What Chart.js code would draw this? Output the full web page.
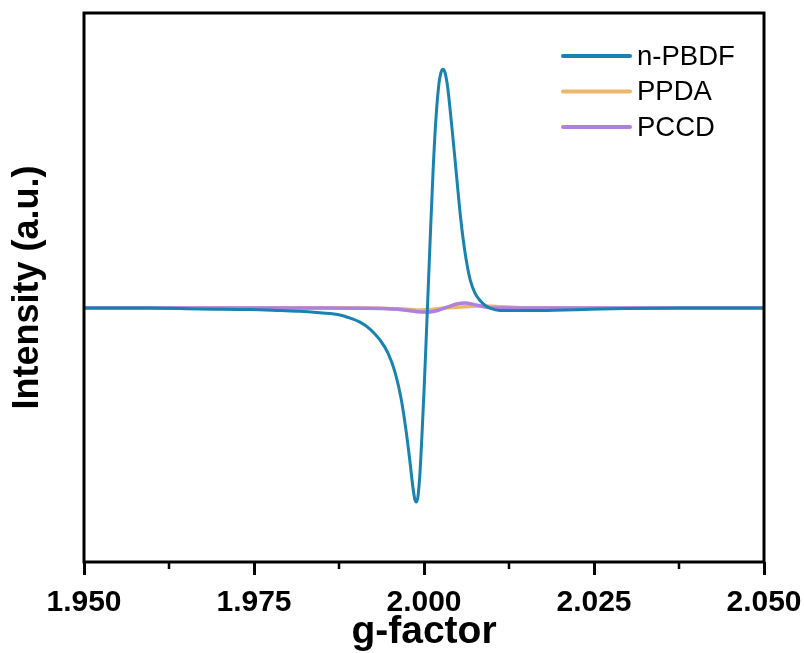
<!DOCTYPE html>
<html>
<head>
<meta charset="utf-8">
<script src="https://cdn.jsdelivr.net/npm/chart.js@4/dist/chart.umd.min.js"></script>
<style>
  html, body { margin: 0; padding: 0; background: #fff; }
  #grafico { display: block; }
</style>
</head>
<body>
<canvas id="grafico" width="804" height="653"></canvas>
<script>
// g-factor positions and intensities
const gPBDF = [1.950000, 1.959706, 1.967059, 1.974412, 1.978824, 1.981765, 1.984706, 1.987647, 1.989118, 1.990588,
  1.992059, 1.993529, 1.994706, 1.995735, 1.996618, 1.997353, 1.997941, 1.998382, 1.998676, 1.998897,
  1.999118, 1.999412, 1.999706, 2.000000, 2.000294, 2.000588, 2.000882, 2.001324, 2.001765, 2.002206,
  2.002500, 2.002794, 2.003088, 2.003382, 2.003676, 2.004118, 2.004559, 2.005000, 2.005441, 2.006029,
  2.006765, 2.007500, 2.008235, 2.008971, 2.009706, 2.011176, 2.017059, 2.025882, 2.037647, 2.050000];
const nPBDF = [0, 0, -0.004, -0.006, -0.010, -0.013, -0.020, -0.029, -0.042, -0.059,
  -0.088, -0.134, -0.189, -0.269, -0.378, -0.513, -0.647, -0.756, -0.807, -0.815,
  -0.790, -0.690, -0.530, -0.350, -0.150, 0.060, 0.270, 0.570, 0.800, 0.945,
  0.990, 1.004, 0.990, 0.948, 0.880, 0.755, 0.625, 0.490, 0.365, 0.235,
  0.122, 0.063, 0.032, 0.012, 0, -0.010, -0.010, -0.004, 0, 0];

const gPPDA = [1.950, 1.970, 1.990, 1.997, 1.9995, 2.001, 2.003, 2.006, 2.008, 2.010, 2.013, 2.016, 2.030, 2.050];
const ppda = [0, 0, 0, -0.004, -0.008, -0.006, 0, 0.006, 0.009, 0.008, 0.003, 0, 0, 0];

const gPCCD = [1.950, 1.970, 1.985, 1.994, 1.997, 1.999, 2.0005, 2.002, 2.0035, 2.005, 2.006, 2.0075, 2.009, 2.011, 2.020, 2.050];
const pccd = [0, 0, 0, -0.002, -0.008, -0.015, -0.017, -0.010, 0.005, 0.018, 0.021, 0.014, 0.005, 0, 0, 0];

const xTicks = [1.950, 1.975, 2.000, 2.025, 2.050];
const xMinorTicks = [1.9625, 1.9875, 2.0125, 2.0375];

function pares(xs, ys) {
  return xs.map((x, i) => ({ x: x, y: ys[i] }));
}

// box around the plot, minor ticks and the legend
const moldura = {
  id: 'moldura',
  afterDraw(chart) {
    const ctx = chart.ctx;
    const a = chart.chartArea;
    const sx = chart.scales.x;
    ctx.save();
    ctx.strokeStyle = '#000';
    ctx.lineWidth = 3;
    ctx.strokeRect(a.left, a.top, a.right - a.left, a.bottom - a.top);

    ctx.lineWidth = 2.5;
    xMinorTicks.forEach(v => {
      const px = sx.getPixelForValue(v);
      ctx.beginPath();
      ctx.moveTo(px, a.bottom);
      ctx.lineTo(px, a.bottom + 7);
      ctx.stroke();
    });

    ctx.font = '27.5px "Liberation Sans", Arial, sans-serif';
    ctx.textBaseline = 'middle';
    ctx.fillStyle = '#000';
    chart.data.datasets.forEach((ds, i) => {
      const y = 56 + i * 35.5;
      ctx.strokeStyle = ds.borderColor;
      ctx.lineWidth = 4;
      ctx.lineCap = 'round';
      ctx.beginPath();
      ctx.moveTo(563, y);
      ctx.lineTo(630, y);
      ctx.stroke();
      ctx.fillText(ds.label, 637, y + 1);
    });
    ctx.restore();
  }
};

const ctx = document.getElementById('grafico').getContext('2d');
new Chart(ctx, {
  type: 'line',
  data: {
    datasets: [
      { label: 'n-PBDF', data: pares(gPBDF, nPBDF), borderColor: '#1883b0', borderWidth: 3, order: 0 },
      { label: 'PPDA', data: pares(gPPDA, ppda), borderColor: '#ebb86a', borderWidth: 3.5, order: 2 },
      { label: 'PCCD', data: pares(gPCCD, pccd), borderColor: '#ad80e2', borderWidth: 3.5, order: 1 }
    ]
  },
  options: {
    responsive: false,
    animation: false,
    layout: { padding: { top: 13, right: 40, left: 0, bottom: 0 } },
    elements: {
      point: { radius: 0 },
      line: { cubicInterpolationMode: 'monotone', fill: false }
    },
    plugins: { legend: { display: false }, tooltip: { enabled: false } },
    scales: {
      x: {
        type: 'linear',
        min: 1.95,
        max: 2.05,
        afterBuildTicks: s => { s.ticks = xTicks.map(v => ({ value: v })); },
        afterFit: s => { s.height = 91; s.paddingLeft = 0; s.paddingRight = 40; },
        border: { display: false },
        grid: { display: true, drawOnChartArea: false, drawTicks: true, tickLength: 13, tickWidth: 3, tickColor: '#000' },
        ticks: {
          color: '#000',
          padding: 10,
          maxRotation: 0,
          font: { family: '"Liberation Sans", Arial, sans-serif', size: 30, weight: 'bold' },
          callback: v => Number(v).toFixed(3)
        },
        title: {
          display: true,
          text: 'g-factor',
          color: '#000',
          padding: { top: 0, bottom: 0 },
          font: { family: '"Liberation Sans", Arial, sans-serif', size: 39, weight: 'bold', lineHeight: 1.05 }
        }
      },
      y: {
        min: -1.067,
        max: 1.24,
        afterFit: s => { s.width = 84; },
        border: { display: false },
        grid: { display: false },
        ticks: { display: false },
        title: {
          display: true,
          text: 'Intensity (a.u.)',
          color: '#000',
          padding: { top: 6, bottom: 0 },
          font: { family: '"Liberation Sans", Arial, sans-serif', size: 36, weight: 'bold', lineHeight: 1.2 }
        }
      }
    }
  },
  plugins: [moldura]
});
</script>
</body>
</html>
